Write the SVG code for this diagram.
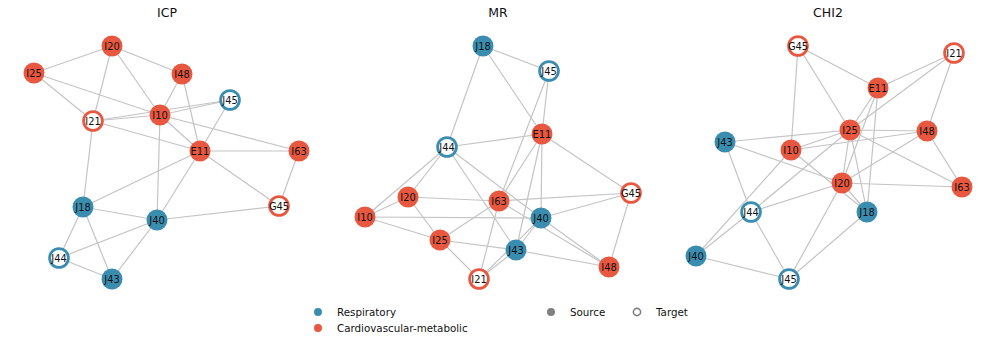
<svg xmlns="http://www.w3.org/2000/svg" width="996" height="343" viewBox="0 0 996 343">
<style>
.bg{fill:#ffffff}
.e line{stroke:#c4c4c4;stroke-width:1.2;fill:none}
.r{fill:#3b8db0}
.c{fill:#e8573f}
.rt{fill:#ffffff;stroke:#3b8db0;stroke-width:2.8}
.ct{fill:#ffffff;stroke:#e8573f;stroke-width:2.8}
text{font-family:"DejaVu Sans","Liberation Sans",sans-serif;fill:#111}
.lb{font-size:9.9px;text-anchor:middle;dominant-baseline:central}
.tt{font-size:12.5px;text-anchor:middle}
.lg{font-size:10.3px}
</style>
<rect class="bg" x="0" y="0" width="996" height="343"/>
<text class="tt" x="167" y="17">ICP</text>
<text class="tt" x="498" y="17">MR</text>
<text class="tt" x="828" y="17">CHI2</text>
<g id="connectors" class="e">
<g id="icp-edges">
<line x1="112" y1="46" x2="34" y2="73"/>
<line x1="112" y1="46" x2="182" y2="74"/>
<line x1="112" y1="46" x2="93" y2="121"/>
<line x1="112" y1="46" x2="160" y2="115"/>
<line x1="34" y1="73" x2="93" y2="121"/>
<line x1="34" y1="73" x2="160" y2="115"/>
<line x1="182" y1="74" x2="160" y2="115"/>
<line x1="182" y1="74" x2="200" y2="151"/>
<line x1="93" y1="121" x2="160" y2="115"/>
<line x1="93" y1="121" x2="230" y2="100"/>
<line x1="160" y1="115" x2="230" y2="100"/>
<line x1="93" y1="121" x2="200" y2="151"/>
<line x1="93" y1="121" x2="83" y2="207"/>
<line x1="160" y1="115" x2="200" y2="151"/>
<line x1="160" y1="115" x2="299" y2="151"/>
<line x1="160" y1="115" x2="157" y2="220"/>
<line x1="230" y1="100" x2="200" y2="151"/>
<line x1="200" y1="151" x2="299" y2="151"/>
<line x1="200" y1="151" x2="279" y2="206"/>
<line x1="200" y1="151" x2="83" y2="207"/>
<line x1="200" y1="151" x2="157" y2="220"/>
<line x1="299" y1="151" x2="279" y2="206"/>
<line x1="83" y1="207" x2="157" y2="220"/>
<line x1="83" y1="207" x2="59" y2="258"/>
<line x1="83" y1="207" x2="112" y2="279"/>
<line x1="157" y1="220" x2="279" y2="206"/>
<line x1="157" y1="220" x2="59" y2="258"/>
<line x1="157" y1="220" x2="112" y2="279"/>
<line x1="59" y1="258" x2="112" y2="279"/>
</g>
<g id="mr-edges">
<line x1="483" y1="46" x2="549" y2="71"/>
<line x1="483" y1="46" x2="447" y2="147"/>
<line x1="483" y1="46" x2="542" y2="134"/>
<line x1="549" y1="71" x2="542" y2="134"/>
<line x1="549" y1="71" x2="499" y2="201"/>
<line x1="499" y1="201" x2="479" y2="279"/>
<line x1="447" y1="147" x2="542" y2="134"/>
<line x1="447" y1="147" x2="408" y2="197"/>
<line x1="447" y1="147" x2="365" y2="217"/>
<line x1="447" y1="147" x2="541" y2="218"/>
<line x1="447" y1="147" x2="516" y2="250"/>
<line x1="542" y1="134" x2="499" y2="201"/>
<line x1="542" y1="134" x2="541" y2="218"/>
<line x1="542" y1="134" x2="516" y2="250"/>
<line x1="542" y1="134" x2="631" y2="193"/>
<line x1="631" y1="193" x2="499" y2="201"/>
<line x1="631" y1="193" x2="541" y2="218"/>
<line x1="631" y1="193" x2="609" y2="267"/>
<line x1="408" y1="197" x2="499" y2="201"/>
<line x1="408" y1="197" x2="365" y2="217"/>
<line x1="408" y1="197" x2="440" y2="240"/>
<line x1="365" y1="217" x2="541" y2="218"/>
<line x1="365" y1="217" x2="440" y2="240"/>
<line x1="440" y1="240" x2="516" y2="250"/>
<line x1="440" y1="240" x2="499" y2="201"/>
<line x1="440" y1="240" x2="479" y2="279"/>
<line x1="499" y1="201" x2="609" y2="267"/>
<line x1="541" y1="218" x2="609" y2="267"/>
<line x1="541" y1="218" x2="516" y2="250"/>
<line x1="516" y1="250" x2="609" y2="267"/>
<line x1="479" y1="279" x2="516" y2="250"/>
<line x1="479" y1="279" x2="541" y2="218"/>
</g>
<g id="chi2-edges">
<line x1="798" y1="46" x2="878" y2="88"/>
<line x1="798" y1="46" x2="850" y2="130"/>
<line x1="798" y1="46" x2="791" y2="150"/>
<line x1="954" y1="53" x2="878" y2="88"/>
<line x1="954" y1="53" x2="850" y2="130"/>
<line x1="954" y1="53" x2="927" y2="131"/>
<line x1="878" y1="88" x2="850" y2="130"/>
<line x1="878" y1="88" x2="842" y2="183"/>
<line x1="878" y1="88" x2="867" y2="212"/>
<line x1="850" y1="130" x2="725" y2="142"/>
<line x1="850" y1="130" x2="791" y2="150"/>
<line x1="850" y1="130" x2="927" y2="131"/>
<line x1="850" y1="130" x2="842" y2="183"/>
<line x1="850" y1="130" x2="867" y2="212"/>
<line x1="850" y1="130" x2="962" y2="187"/>
<line x1="850" y1="130" x2="751" y2="212"/>
<line x1="791" y1="150" x2="927" y2="131"/>
<line x1="791" y1="150" x2="696" y2="256"/>
<line x1="791" y1="150" x2="867" y2="212"/>
<line x1="751" y1="212" x2="696" y2="256"/>
<line x1="751" y1="212" x2="789" y2="279"/>
<line x1="696" y1="256" x2="789" y2="279"/>
<line x1="725" y1="142" x2="751" y2="212"/>
<line x1="725" y1="142" x2="842" y2="183"/>
<line x1="751" y1="212" x2="842" y2="183"/>
<line x1="842" y1="183" x2="962" y2="187"/>
<line x1="842" y1="183" x2="867" y2="212"/>
<line x1="842" y1="183" x2="789" y2="279"/>
<line x1="867" y1="212" x2="789" y2="279"/>
<line x1="927" y1="131" x2="842" y2="183"/>
<line x1="927" y1="131" x2="962" y2="187"/>
</g>
</g>
<g id="icp-nodes">
<g id="icp-I20"><circle class="c" cx="112" cy="46" r="10.5"/><text class="lb" x="112" y="46">I20</text></g>
<g id="icp-I25"><circle class="c" cx="34" cy="73" r="10.5"/><text class="lb" x="34" y="73">I25</text></g>
<g id="icp-I48"><circle class="c" cx="182" cy="74" r="10.5"/><text class="lb" x="182" y="74">I48</text></g>
<g id="icp-J45"><circle class="rt" cx="230" cy="100" r="9.4"/><text class="lb" x="230" y="100">J45</text></g>
<g id="icp-I21"><circle class="ct" cx="93" cy="121" r="9.4"/><text class="lb" x="93" y="121">I21</text></g>
<g id="icp-I10"><circle class="c" cx="160" cy="115" r="10.5"/><text class="lb" x="160" y="115">I10</text></g>
<g id="icp-E11"><circle class="c" cx="200" cy="151" r="10.5"/><text class="lb" x="200" y="151">E11</text></g>
<g id="icp-I63"><circle class="c" cx="299" cy="151" r="10.5"/><text class="lb" x="299" y="151">I63</text></g>
<g id="icp-J18"><circle class="r" cx="83" cy="207" r="10.5"/><text class="lb" x="83" y="207">J18</text></g>
<g id="icp-J40"><circle class="r" cx="157" cy="220" r="10.5"/><text class="lb" x="157" y="220">J40</text></g>
<g id="icp-G45"><circle class="ct" cx="279" cy="206" r="9.4"/><text class="lb" x="279" y="206">G45</text></g>
<g id="icp-J44"><circle class="rt" cx="59" cy="258" r="9.4"/><text class="lb" x="59" y="258">J44</text></g>
<g id="icp-J43"><circle class="r" cx="112" cy="279" r="10.5"/><text class="lb" x="112" y="279">J43</text></g>
</g>
<g id="mr-nodes">
<g id="mr-J18"><circle class="r" cx="483" cy="46" r="10.5"/><text class="lb" x="483" y="46">J18</text></g>
<g id="mr-J45"><circle class="rt" cx="549" cy="71" r="9.4"/><text class="lb" x="549" y="71">J45</text></g>
<g id="mr-E11"><circle class="c" cx="542" cy="134" r="10.5"/><text class="lb" x="542" y="134">E11</text></g>
<g id="mr-J44"><circle class="rt" cx="447" cy="147" r="9.4"/><text class="lb" x="447" y="147">J44</text></g>
<g id="mr-G45"><circle class="ct" cx="631" cy="193" r="9.4"/><text class="lb" x="631" y="193">G45</text></g>
<g id="mr-I20"><circle class="c" cx="408" cy="197" r="10.5"/><text class="lb" x="408" y="197">I20</text></g>
<g id="mr-I63"><circle class="c" cx="499" cy="201" r="10.5"/><text class="lb" x="499" y="201">I63</text></g>
<g id="mr-I10"><circle class="c" cx="365" cy="217" r="10.5"/><text class="lb" x="365" y="217">I10</text></g>
<g id="mr-J40"><circle class="r" cx="541" cy="218" r="10.5"/><text class="lb" x="541" y="218">J40</text></g>
<g id="mr-I25"><circle class="c" cx="440" cy="240" r="10.5"/><text class="lb" x="440" y="240">I25</text></g>
<g id="mr-J43"><circle class="r" cx="516" cy="250" r="10.5"/><text class="lb" x="516" y="250">J43</text></g>
<g id="mr-I48"><circle class="c" cx="609" cy="267" r="10.5"/><text class="lb" x="609" y="267">I48</text></g>
<g id="mr-I21"><circle class="ct" cx="479" cy="279" r="9.4"/><text class="lb" x="479" y="279">I21</text></g>
</g>
<g id="chi2-nodes">
<g id="chi2-G45"><circle class="ct" cx="798" cy="46" r="9.4"/><text class="lb" x="798" y="46">G45</text></g>
<g id="chi2-I21"><circle class="ct" cx="954" cy="53" r="9.4"/><text class="lb" x="954" y="53">I21</text></g>
<g id="chi2-E11"><circle class="c" cx="878" cy="88" r="10.5"/><text class="lb" x="878" y="88">E11</text></g>
<g id="chi2-I25"><circle class="c" cx="850" cy="130" r="10.5"/><text class="lb" x="850" y="130">I25</text></g>
<g id="chi2-I48"><circle class="c" cx="927" cy="131" r="10.5"/><text class="lb" x="927" y="131">I48</text></g>
<g id="chi2-J43"><circle class="r" cx="725" cy="142" r="10.5"/><text class="lb" x="725" y="142">J43</text></g>
<g id="chi2-I10"><circle class="c" cx="791" cy="150" r="10.5"/><text class="lb" x="791" y="150">I10</text></g>
<g id="chi2-I20"><circle class="c" cx="842" cy="183" r="10.5"/><text class="lb" x="842" y="183">I20</text></g>
<g id="chi2-I63"><circle class="c" cx="962" cy="187" r="10.5"/><text class="lb" x="962" y="187">I63</text></g>
<g id="chi2-J18"><circle class="r" cx="867" cy="212" r="10.5"/><text class="lb" x="867" y="212">J18</text></g>
<g id="chi2-J44"><circle class="rt" cx="751" cy="212" r="9.4"/><text class="lb" x="751" y="212">J44</text></g>
<g id="chi2-J40"><circle class="r" cx="696" cy="256" r="10.5"/><text class="lb" x="696" y="256">J40</text></g>
<g id="chi2-J45"><circle class="rt" cx="789" cy="279" r="9.4"/><text class="lb" x="789" y="279">J45</text></g>
</g>
<g id="legend">
<circle class="r" cx="318" cy="312" r="4"/>
<text class="lg" x="337" y="316">Respiratory</text>
<circle class="c" cx="318" cy="328" r="4"/>
<text class="lg" x="337" y="332">Cardiovascular-metabolic</text>
<circle cx="551" cy="312" r="4" fill="#808080"/>
<text class="lg" x="570" y="316">Source</text>
<circle cx="637" cy="312" r="3.6" fill="#ffffff" stroke="#808080" stroke-width="1.6"/>
<text class="lg" x="656" y="316">Target</text>
</g>
</svg>
